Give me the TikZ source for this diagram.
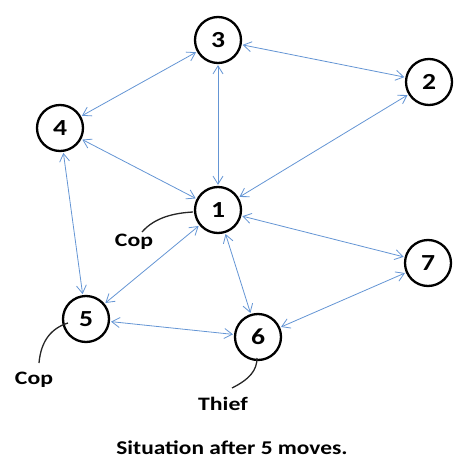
\documentclass[tikz,border=0pt]{standalone}
\usepackage{fontspec}
\setmainfont{Carlito}
\usetikzlibrary{arrows.meta}
\definecolor{edgeblue}{RGB}{100,149,212}
\newcommand{\wide}[2]{\scalebox{#1}[1]{#2}}
\begin{document}
\begin{tikzpicture}[x=1pt,y=-1pt,
  vertex/.style={circle,draw=black,line width=2.3pt,fill=white,minimum size=46pt,inner sep=0pt,font=\bfseries\fontsize{23}{23}\selectfont},
  link/.style={draw=edgeblue,line width=0.8pt,{Straight Barb[length=8pt,width=10pt]}-{Straight Barb[length=8pt,width=10pt]},shorten <=1pt,shorten >=1pt},
  tag/.style={font=\bfseries\fontsize{19}{19}\selectfont,inner sep=0pt},
  pointer/.style={draw=black!85,line width=1.3pt},
  caption/.style={font=\bfseries\fontsize{19.5}{19.5}\selectfont,inner sep=0pt}]
\useasboundingbox (0,0) rectangle (454,460);
\node[vertex] (n3) at (218,40) {\wide{1.2}{3}};
\node[vertex] (n2) at (429,82) {\wide{1.2}{2}};
\node[vertex] (n4) at (60,128) {\wide{1.2}{4}};
\node[vertex] (n1) at (218,210) {\wide{1.2}{1}};
\node[vertex] (n7) at (428,263) {\wide{1.2}{7}};
\node[vertex] (n5) at (86,319) {\wide{1.2}{5}};
\node[vertex] (n6) at (258,337) {\wide{1.2}{6}};
\draw[link] (n3) -- (n2);
\draw[link] (n3) -- (n4);
\draw[link] (n3) -- (n1);
\draw[link] (n2) -- (n1);
\draw[link] (n4) -- (n1);
\draw[link] (n4) -- (n5);
\draw[link] (n1) -- (n5);
\draw[link] (n1) -- (n6);
\draw[link] (n1) -- (n7);
\draw[link] (n7) -- (n6);
\draw[link] (n5) -- (n6);
\node[tag] (cop1) at (134,242) {\wide{1.25}{Cop}};
\node[tag] (cop5) at (34,380) {\wide{1.25}{Cop}};
\node[tag] (thief) at (223,404) {\wide{1.25}{Thief}};
\coordinate (p1) at (193,212);
\coordinate (p5) at (68,323);
\coordinate (p6) at (257,358);
\draw[pointer] (142,232) .. controls (155,217) and (175,213) .. (p1);
\draw[pointer] (39,363) .. controls (41,340) and (52,328) .. (p5);
\draw[pointer] (232,388) .. controls (250,379) and (257,370) .. (p6);
\node[caption] (cap) at (232,448) {\wide{1.2}{Situation after 5 moves.}};
\end{tikzpicture}
\end{document}
